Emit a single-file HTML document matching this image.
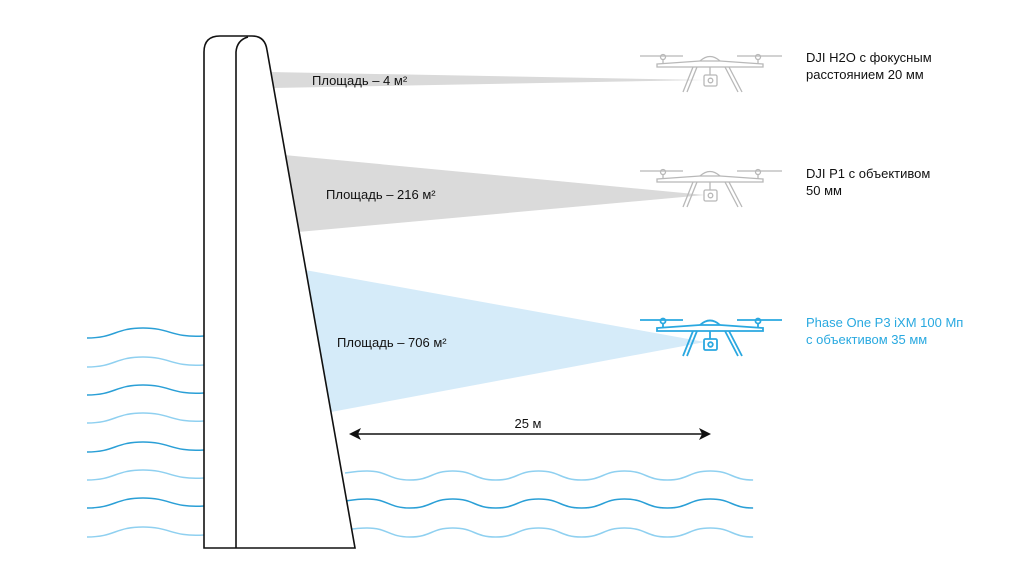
<!DOCTYPE html>
<html><head><meta charset="utf-8"><style>
html,body{margin:0;padding:0;background:#fff;}
svg{display:block;font-family:"Liberation Sans",sans-serif;}
</style></head><body>
<svg width="1024" height="576" viewBox="0 0 1024 576" xmlns="http://www.w3.org/2000/svg">
<defs>
<g id="drone">
  <line x1="640" y1="56" x2="683" y2="56"/>
  <circle cx="663" cy="57" r="2.5"/>
  <line x1="663" y1="59" x2="663" y2="64"/>
  <line x1="737" y1="56" x2="782" y2="56"/>
  <circle cx="758" cy="57" r="2.5"/>
  <line x1="758" y1="59" x2="758" y2="64"/>
  <path d="M700 61 Q710 52 720 61"/>
  <path d="M657 64 L700 61 L720 61 L763 64 L763 67 L657 67 Z"/>
  <line x1="710" y1="67" x2="710" y2="75"/>
  <rect x="704" y="75" width="13" height="11" rx="1.5"/>
  <circle cx="710.5" cy="80.5" r="2.3"/>
  <path d="M693 67 L683 92 M697 67 L687 92"/>
  <path d="M725 67 L738 92 M729 67 L742 92"/>
</g>
<path id="rw" d="M345 473 C352 472,358 471,367 471 c21 0,21.4 9,42.9 9 s21.4-9,42.9-9 s21.4 9,42.9 9 s21.4-9,42.9-9 s21.4 9,42.9 9 s21.4-9,42.9-9 s21.4 9,42.9 9 s21.4-9,42.9-9 s21.4 9,42.9 9"/>
</defs>

<!-- beams -->
<polygon points="269,72 272,88 705,80" fill="#dadada"/>
<polygon points="284,155 298,232 705,195" fill="#dadada"/>
<polygon points="305,270 331,412 705,342" fill="#d5ebf9"/>

<!-- left waves -->
<g fill="none" stroke-width="1.5">
<path d="M87 338 C115 338,115 328,143 328 S171 338,204 336" stroke="#2a9fd6"/>
<path d="M87 367 C115 367,115 357,143 357 S171 367,204 365" stroke="#8fd0f0"/>
<path d="M87 395 C115 395,115 385,143 385 S171 395,204 393" stroke="#2a9fd6"/>
<path d="M87 423 C115 423,115 413,143 413 S171 423,204 421" stroke="#8fd0f0"/>
<path d="M87 452 C115 452,115 442,143 442 S171 452,204 450" stroke="#2a9fd6"/>
<path d="M87 480 C115 480,115 470,143 470 S171 480,204 478" stroke="#8fd0f0"/>
<path d="M87 508 C115 508,115 498,143 498 S171 508,204 506" stroke="#2a9fd6"/>
<path d="M87 537 C115 537,115 527,143 527 S171 537,204 535" stroke="#8fd0f0"/>
</g>
<!-- right waves -->
<g fill="none" stroke-width="1.5">
<use href="#rw" stroke="#8fd0f0"/>
<use href="#rw" y="28" stroke="#2a9fd6"/>
<use href="#rw" y="57" stroke="#8fd0f0"/>
</g>

<!-- dam -->
<path d="M204 548 L204 52 Q204 36 220 36 L252 36 Q265 36 267 50 L355 548 Z" fill="#fff" stroke="#111" stroke-width="1.6"/>
<path d="M236 548 L236 52 Q237 40 248 37" fill="none" stroke="#111" stroke-width="1.6"/>

<!-- arrow -->
<line x1="356" y1="434" x2="704" y2="434" stroke="#111" stroke-width="1.6"/>
<path d="M349 434 L361 428 L358 434 L361 440 Z" fill="#111"/>
<path d="M711 434 L699 428 L702 434 L699 440 Z" fill="#111"/>
<text x="528" y="428" font-size="13" text-anchor="middle" fill="#111">25 м</text>

<!-- drones -->
<g fill="none" stroke="#b8b8b8" stroke-width="1.3"><use href="#drone"/></g>
<g fill="none" stroke="#b8b8b8" stroke-width="1.3"><use href="#drone" y="115"/></g>
<g fill="none" stroke="#2aa8e0" stroke-width="1.8"><use href="#drone" y="264"/></g>

<!-- labels -->
<g font-size="13" fill="#111">
<text x="312" y="85">Площадь – 4 м²</text>
<text x="326" y="199">Площадь – 216 м²</text>
<text x="337" y="347">Площадь – 706 м²</text>
<text x="806" y="62">DJI H2O с фокусным</text>
<text x="806" y="79">расстоянием 20 мм</text>
<text x="806" y="178">DJI P1 с объективом</text>
<text x="806" y="195">50 мм</text>
</g>
<g font-size="13" fill="#29a9e0">
<text x="806" y="327">Phase One P3 iXM 100 Мп</text>
<text x="806" y="344">с объективом 35 мм</text>
</g>
</svg>
</body></html>
